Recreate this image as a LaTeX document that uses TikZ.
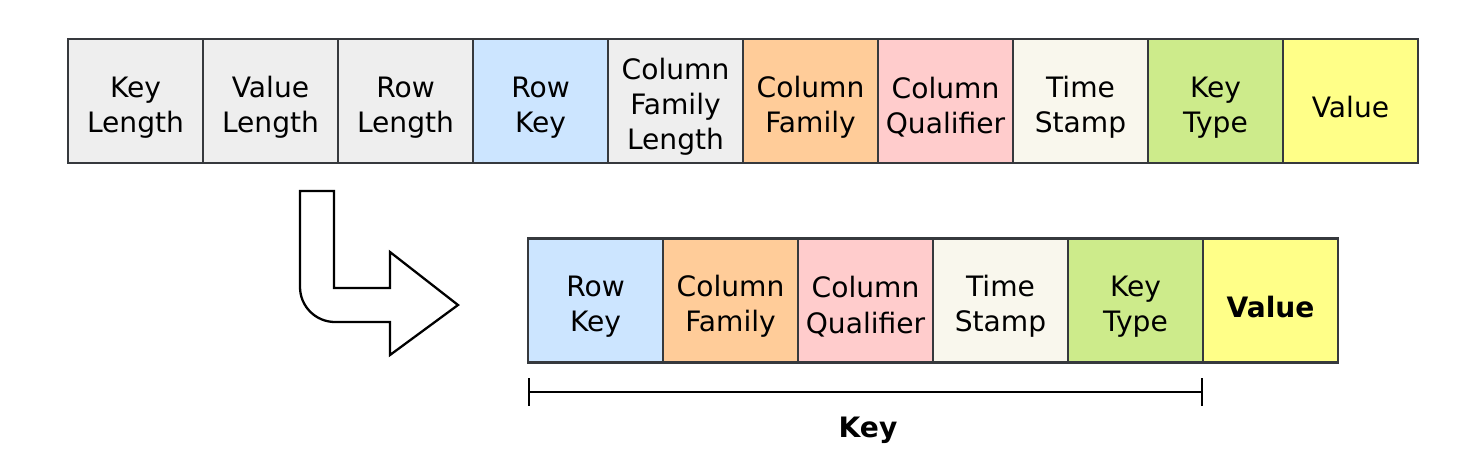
\documentclass[tikz,border=0pt]{standalone}
\usepackage{fontspec}
\setmainfont{DejaVu Sans}
\usepackage{xcolor}
\usepackage{tikz}
\usetikzlibrary{positioning, arrows.meta}

\definecolor{cellgray}{HTML}{EEEEEE}
\definecolor{cellblue}{HTML}{CCE5FF}
\definecolor{cellorange}{HTML}{FFCC99}
\definecolor{cellpink}{HTML}{FFCCCC}
\definecolor{cellcream}{HTML}{F9F7ED}
\definecolor{cellgreen}{HTML}{CDEB8B}
\definecolor{cellyellow}{HTML}{FFFF88}
\definecolor{celledge}{HTML}{36393D}

\newcommand{\fstrut}{\rule{0pt}{0.67cm}}

\begin{document}
\begin{tikzpicture}[
    x=0.02cm, y=-0.02cm,
    field/.style={rectangle, draw=celledge, line width=1.2pt, minimum width=2.7cm, minimum height=2.48cm, inner sep=0pt, align=center, font=\fontsize{16}{20}\selectfont},
    bracket/.style={line width=1.3pt, {Bar[width=0.55cm]}-{Bar[width=0.55cm]}}
]
\useasboundingbox (0,0) rectangle (1470,471);

% full key-value layout
\node[field, fill=cellgray] (keylen) at (135.5,101) {\fstrut Key\\Length};
\node[field, fill=cellgray] (vallen) at (270.5,101) {\fstrut Value\\Length};
\node[field, fill=cellgray] (rowlen) at (405.5,101) {\fstrut Row\\Length};
\node[field, fill=cellblue] (rowkey) at (540.5,101) {\fstrut Row\\Key};
\node[field, fill=cellgray] (cflen) at (675.5,101) {\fstrut Column\\Family\\Length};
\node[field, fill=cellorange] (cf) at (810.5,101) {\fstrut Column\\Family};
\node[field, fill=cellpink] (cq) at (945.5,101) {\fstrut Column\\Qualifier};
\node[field, fill=cellcream] (ts) at (1080.5,101) {\fstrut Time\\Stamp};
\node[field, fill=cellgreen] (ktype) at (1215.5,101) {\fstrut Key\\Type};
\node[field, fill=cellyellow] (val) at (1350.5,101) {\fstrut Value};

% bent arrow
\draw[line width=1.3pt, line join=miter] (334,191) -- (334,288) -- (390,288) -- (390,252) -- (458,305)
    -- (390,355) -- (390,322) -- (335,322) arc[start angle=270, end angle=180, radius=0.7cm]
    -- (300,191) -- cycle;

% key part only
\node[field, fill=cellblue] (krow) at (595.5,300.5) {\fstrut Row\\Key};
\node[field, fill=cellorange] (kcf) at (730.5,300.5) {\fstrut Column\\Family};
\node[field, fill=cellpink] (kcq) at (865.5,300.5) {\fstrut Column\\Qualifier};
\node[field, fill=cellcream] (kts) at (1000.5,300.5) {\fstrut Time\\Stamp};
\node[field, fill=cellgreen] (ktp) at (1135.5,300.5) {\fstrut Key\\Type};
\node[field, fill=cellyellow, font=\fontsize{16}{20}\selectfont\bfseries] (kval) at (1270.5,300.5) {\fstrut Value};

\coordinate (kstart) at (528,392);
\coordinate (kend) at (1203,392);
\draw[bracket] (kstart) -- (kend);
\node[font=\fontsize{16}{20}\selectfont\bfseries] (keylabel) at (868,430) {Key};
\end{tikzpicture}
\end{document}
